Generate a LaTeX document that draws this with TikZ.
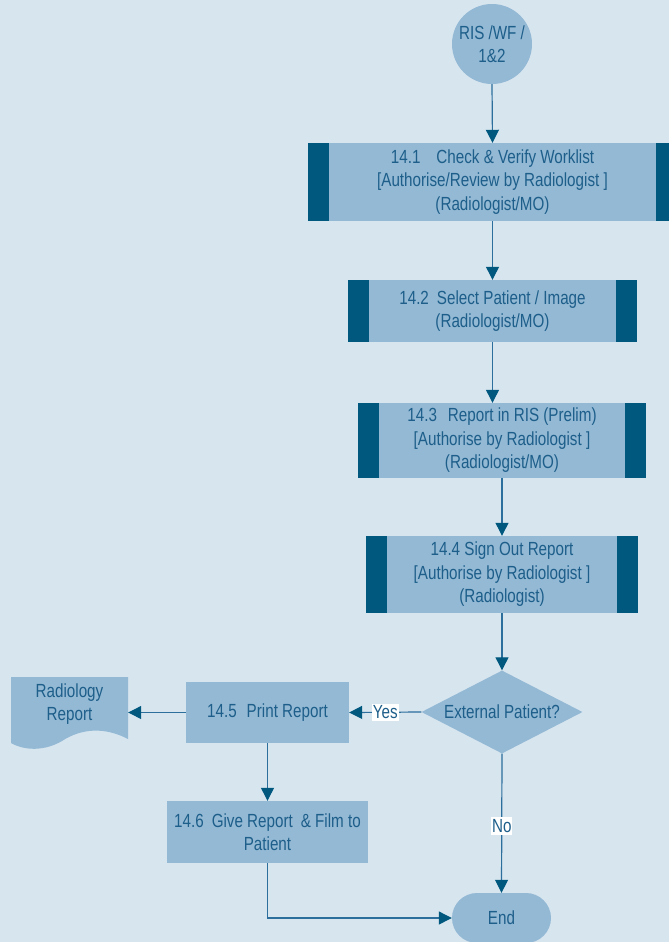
\documentclass[tikz,border=0pt]{standalone}
\usepackage{fontspec}
\setmainfont{Liberation Sans}[FakeStretch=0.8]
\usetikzlibrary{shapes.geometric,arrows.meta}
\definecolor{bg}{HTML}{D7E5EF}
\definecolor{boxfill}{HTML}{93B9D4}
\definecolor{bar}{HTML}{00587F}
\definecolor{txt}{HTML}{1D5E8A}
\definecolor{ln}{HTML}{2C6E9C}
\begin{document}
\begin{tikzpicture}[x=1pt,y=-1pt,
 every node/.style={font=\fontsize{19}{23.5}\selectfont, text=txt, inner sep=0pt, align=center},
 proc/.style={rectangle, fill=boxfill},
 preproc/.style={proc, path picture={
   \fill[bar] (path picture bounding box.north west) rectangle ([xshift=21pt]path picture bounding box.south west);
   \fill[bar] (path picture bounding box.north east) rectangle ([xshift=-21pt]path picture bounding box.south east);}},
 flow/.style={draw=ln, line width=1.2pt, -{Triangle[length=13pt,width=13pt,color=bar]}},
 lbl/.style={fill=white, inner xsep=1pt, inner ysep=2pt},
]
\fill[bg] (0,0) rectangle (669,942);
\useasboundingbox (0,0) rectangle (669,942);

\node[circle, fill=boxfill, minimum size=80pt] (start) at (492,44) {RIS /WF /\\1\&2};
\node[preproc, minimum width=369pt, minimum height=78pt] (p1) at (492.5,182)
  {14.1\hspace{16pt}Check \& Verify Worklist\\{}[Authorise/Review by Radiologist ]\\(Radiologist/MO)};
\node[preproc, minimum width=289pt, minimum height=62pt] (p2) at (492.5,311)
  {14.2\hspace{8pt}Select Patient / Image\\(Radiologist/MO)};
\node[preproc, minimum width=288pt, minimum height=75pt] (p3) at (502,440.5)
  {14.3\hspace{11pt}Report in RIS (Prelim)\\{}[Authorise by Radiologist ]\\(Radiologist/MO)};
\node[preproc, minimum width=272pt, minimum height=77pt] (p4) at (502,574.5)
  {14.4 Sign Out Report\\{}[Authorise by Radiologist ]\\(Radiologist)};
\node[diamond, fill=boxfill, aspect=1.94, minimum width=161pt, minimum height=83pt] (dec) at (502,712) {External Patient?};
\node[proc, minimum width=163pt, minimum height=61pt] (p5) at (267.5,712.5) {14.5\hspace{10pt}Print Report};
\node[proc, minimum width=201pt, minimum height=62pt] (p6) at (267.5,832)
  {14.6\hspace{8pt}Give Report\hspace{8pt}\& Film to\\Patient};
\node[rectangle, rounded corners=25pt, fill=boxfill, minimum width=99pt, minimum height=50pt] (end) at (501.5,918) {End};

% document shape
\fill[boxfill] (11,677) -- (128,677) -- (128,739)
  .. controls (105,727) and (82,728) .. (62,741)
  .. controls (45,751) and (25,751) .. (11,743) -- cycle;
\node[minimum width=117pt] (doc) at (69.5,704) {Radiology\\Report};

% connectors
\draw[flow] (start.south) -- (p1.north);
\draw[flow] (p1.south) -- (p2.north);
\draw[flow] (p2.south) -- (p2.south |- p3.north);
\draw[flow] (p3.south) -- (p4.north);
\draw[flow] (p4.south) -- (dec.north);
\draw[flow] (dec.west) -- node[lbl] {Yes} (p5.east);
\draw[flow] (p5.west) -- (p5.west -| doc.east);
\draw[flow] (p5.south) -- (p6.north);
\draw[flow] (dec.south) -- node[lbl, pos=0.52] {No} (end.north);
\draw[flow] (p6.south) |- (end.west);
\end{tikzpicture}
\end{document}
